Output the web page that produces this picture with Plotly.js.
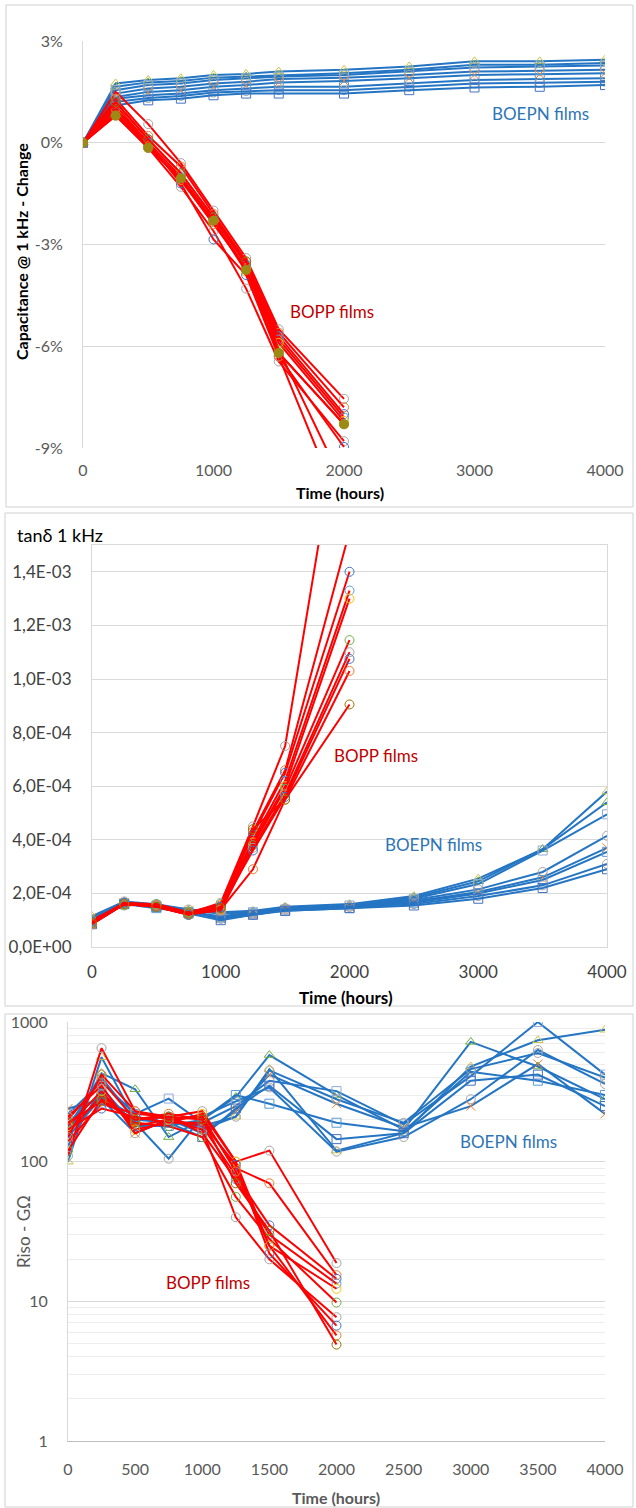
<!DOCTYPE html>
<html><head><meta charset="utf-8">
<script src="https://cdn.plot.ly/plotly-3.0.1.min.js"></script>
<style>html,body{margin:0;padding:0;background:#fff}#chart{width:636px;height:1508px}</style>
</head><body><div id="chart"></div>
<script>
// ---------- DATA ----------
const hoursBOEPN = [0,250,500,750,1000,1250,1500,2000,2500,3000,3500,4000];
const hoursBOPP  = [0,250,500,750,1000,1250,1500,2000];

// Panel 1: capacitance change @ 1 kHz (%)
const capBOEPN1 = [0,1.75,1.85,1.90,2.00,2.03,2.10,2.15,2.25,2.40,2.40,2.45];
const capBOEPN2 = [0,1.65,1.78,1.82,1.92,1.95,2.00,2.05,2.15,2.30,2.30,2.35];
const capBOEPN3 = [0,1.55,1.70,1.75,1.85,1.90,1.95,2.00,2.10,2.22,2.25,2.28];
const capBOEPN4 = [0,1.45,1.60,1.65,1.75,1.80,1.88,1.92,2.00,2.10,2.12,2.15];
const capBOEPN5 = [0,1.35,1.50,1.55,1.65,1.70,1.78,1.82,1.90,2.00,2.02,2.05];
const capBOEPN6 = [0,1.30,1.40,1.45,1.55,1.60,1.65,1.65,1.75,1.85,1.88,1.90];
const capBOEPN7 = [0,1.20,1.32,1.38,1.48,1.52,1.55,1.55,1.65,1.75,1.77,1.80];
const capBOEPN8 = [0,1.10,1.25,1.30,1.40,1.45,1.45,1.45,1.55,1.63,1.65,1.70];

const capBOPP1  = [0,1.50, 0.55,-0.60,-2.00,-3.40,-5.50,-7.55];
const capBOPP2  = [0,1.30, 0.20,-0.70,-2.10,-3.50,-5.60,-7.80];
const capBOPP3  = [0,1.20, 0.10,-0.90,-2.20,-3.60,-5.70,-8.00];
const capBOPP4  = [0,1.00, 0.00,-1.00,-2.30,-3.70,-5.80,-8.10];
const capBOPP5  = [0,0.90,-0.10,-1.10,-2.30,-3.80,-5.90,-8.20];
const capBOPP6  = [0,0.80,-0.15,-1.05,-2.30,-3.75,-6.20,-8.30];
const capBOPP7  = [0,0.85,-0.15,-1.30,-2.60,-4.30,-6.45,-8.80];
const capBOPP8  = [0,1.10, 0.00,-1.20,-2.85,-3.90,-6.30,-8.97];
const capBOPP9  = [0,1.00,-0.10,-1.10,-2.40,-3.70,-6.30,-11.0];
const capBOPP10 = [0,1.20, 0.10,-0.90,-2.20,-3.50,-6.10,-10.1];

// Panel 2: tan delta @ 1 kHz (units of 1E-04)
const tanBOEPN1 = [1.15,1.70,1.60,1.40,1.30,1.35,1.50,1.60,1.90,2.55,3.65,5.80];
const tanBOEPN2 = [1.05,1.65,1.55,1.35,1.25,1.30,1.45,1.55,1.85,2.45,3.65,5.40];
const tanBOEPN3 = [1.00,1.60,1.55,1.30,1.15,1.30,1.40,1.55,1.80,2.35,3.60,4.95];
const tanBOEPN4 = [0.95,1.70,1.50,1.30,1.10,1.25,1.45,1.50,1.75,2.15,2.80,4.15];
const tanBOEPN5 = [1.10,1.65,1.50,1.35,1.05,1.20,1.40,1.50,1.70,2.05,2.60,3.70];
const tanBOEPN6 = [0.90,1.60,1.45,1.30,1.10,1.25,1.35,1.45,1.65,2.00,2.50,3.55];
const tanBOEPN7 = [1.00,1.65,1.55,1.40,1.05,1.20,1.40,1.50,1.60,1.90,2.30,3.10];
const tanBOEPN8 = [0.85,1.60,1.50,1.25,1.00,1.20,1.35,1.45,1.55,1.80,2.20,2.90];

const tanBOPP1  = [0.90,1.65,1.60,1.25,1.65,4.50,7.50,22.0];
const tanBOPP2  = [1.00,1.60,1.55,1.30,1.55,4.30,6.60,15.5];
const tanBOPP3  = [0.85,1.60,1.50,1.20,1.50,4.20,6.50,14.0];
const tanBOPP4  = [0.95,1.65,1.55,1.25,1.45,4.00,6.20,13.3];
const tanBOPP5  = [0.90,1.60,1.50,1.20,1.40,3.90,6.00,13.0];
const tanBOPP6  = [1.00,1.55,1.60,1.30,1.60,3.80,5.90,11.45];
const tanBOPP7  = [0.90,1.60,1.55,1.25,1.35,3.70,5.70,11.0];
const tanBOPP8  = [0.95,1.65,1.50,1.20,1.50,3.60,5.60,10.75];
const tanBOPP9  = [0.85,1.60,1.55,1.25,1.40,2.90,5.50,10.3];
const tanBOPP10 = [0.90,1.60,1.50,1.25,1.45,4.40,5.50,9.05];

// Panel 3: insulation resistance (GOhm)
const risoBOEPN1 = [100,560,200,190,180,210,460,120,160,480,740,880];
const risoBOEPN2 = [160,430,330,150,200,290,580,300,170,720,480,280];
const risoBOEPN3 = [220,370,220,283,190,250,380,320,185,410,1000,420];
const risoBOEPN4 = [190,310,190,105,210,270,340,118,150,280,630,360];
const risoBOEPN5 = [240,280,160,200,160,230,420,260,175,250,500,220];
const risoBOEPN6 = [130,340,180,180,200,300,260,190,165,440,380,300];
const risoBOEPN7 = [180,400,200,210,170,210,450,280,190,460,600,400];
const risoBOEPN8 = [150,290,210,190,150,240,350,145,160,380,420,250];

const risoBOPP1  = [110,650,230,210,230,100,120,18.8];
const risoBOPP2  = [200,380,200,220,200, 90, 70,15.4];
const risoBOPP3  = [160,300,180,200,180, 80, 35,14.5];
const risoBOPP4  = [140,260,220,210,160, 75, 30,13.4];
const risoBOPP5  = [180,320,170,190,220,100, 25,12.3];
const risoBOPP6  = [120,280,190,180,150, 56, 28, 9.8];
const risoBOPP7  = [210,350,160,200,170, 40, 20, 7.7];
const risoBOPP8  = [170,240,210,190,190, 95, 22, 6.7];
const risoBOPP9  = [150,420,230,200,210, 85, 25, 5.7];
const risoBOPP10 = [190,270,200,210,200, 70, 32, 4.9];

const capTicks = [-9,-6,-3,0,3];
const capTickText = ['-9%','-6%','-3%','0%','3%'];
const tanTicks = [0,2,4,6,8,10,12,14];
const tanTickText = ['0,0E+00','2,0E-04','4,0E-04','6,0E-04','8,0E-04','1,0E-03','1,2E-03','1,4E-03'];
const risoTicks = [1,10,100,1000];
const risoTickText = ['1','10','100','1000'];

// ---------- STYLE ----------
const W = 636, H = 1508;
const px = v => v / W, py = v => 1 - v / H;
const BLUE = '#2475C3', RED = '#FF0000';
const FONT = 'Lato, "Open Sans", sans-serif';
const blueSyms = ['triangle-up-open','triangle-up-open','square-open','circle-open','x-thin-open','square-open','circle-open','square-open'];
const blueMcol = ['#C9C34A','#70AD47','#8FAADC','#A5A5A5','#ED7D31','#5B9BD5','#A5A5A5','#4472C4'];
const redMcol  = ['#A5A5A5','#ED7D31','#4472C4','#5B9BD5','#FFC000','#70AD47','#A5A5A5','#4472C4','#ED7D31','#997300'];

const traces = [];
function add(x, y, xa, ya, color, sym, mcol, filled) {
  traces.push({
    x: x, y: y, xaxis: xa, yaxis: ya, type: 'scatter', mode: 'lines+markers',
    line: {color: color, width: 2},
    marker: filled ? {symbol: 'circle', size: 10, color: mcol, line: {width: 0}}
                   : {symbol: sym, size: 9, color: mcol, line: {color: mcol, width: 1}},
    hoverinfo: 'skip', showlegend: false
  });
}
const capB = [capBOEPN1,capBOEPN2,capBOEPN3,capBOEPN4,capBOEPN5,capBOEPN6,capBOEPN7,capBOEPN8];
const capR = [capBOPP1,capBOPP2,capBOPP3,capBOPP4,capBOPP5,capBOPP6,capBOPP7,capBOPP8,capBOPP9,capBOPP10];
const tanB = [tanBOEPN1,tanBOEPN2,tanBOEPN3,tanBOEPN4,tanBOEPN5,tanBOEPN6,tanBOEPN7,tanBOEPN8];
const tanR = [tanBOPP1,tanBOPP2,tanBOPP3,tanBOPP4,tanBOPP5,tanBOPP6,tanBOPP7,tanBOPP8,tanBOPP9,tanBOPP10];
const risB = [risoBOEPN1,risoBOEPN2,risoBOEPN3,risoBOEPN4,risoBOEPN5,risoBOEPN6,risoBOEPN7,risoBOEPN8];
const risR = [risoBOPP1,risoBOPP2,risoBOPP3,risoBOPP4,risoBOPP5,risoBOPP6,risoBOPP7,risoBOPP8,risoBOPP9,risoBOPP10];

capB.forEach((s,i) => add(hoursBOEPN, s, 'x', 'y', BLUE, blueSyms[i], blueMcol[i]));
capR.forEach((s,i) => add(hoursBOPP, s, 'x', 'y', RED, 'circle-open', redMcol[i]));
add(hoursBOPP, capBOPP6, 'x', 'y', RED, 'circle', '#9C8A14', true);
tanB.forEach((s,i) => add(hoursBOEPN, s, 'x2', 'y2', BLUE, blueSyms[i], blueMcol[i]));
tanR.forEach((s,i) => add(hoursBOPP, s, 'x2', 'y2', RED, 'circle-open', redMcol[i]));
risB.forEach((s,i) => add(hoursBOEPN, s, 'x3', 'y3', BLUE, blueSyms[i], blueMcol[i]));
risR.forEach((s,i) => add(hoursBOPP, s, 'x3', 'y3', RED, 'circle-open', redMcol[i]));

const GRID = '#D9D9D9';
const tickGray = {family: FONT, size: 16, color: '#595959'};
const tickDark = {family: FONT, size: 17, color: '#404040'};
const minorVals = [];
[1,10,100].forEach(d => { for (let k = 2; k <= 9; k++) minorVals.push(k*d); });

const layout = {
  width: W, height: H, margin: {l:0, r:0, t:0, b:0},
  paper_bgcolor: '#fff', plot_bgcolor: 'rgba(0,0,0,0)', showlegend: false,
  font: {family: FONT},
  xaxis: {domain: [px(83), px(605)], anchor: 'y', range: [0,4000], tickvals: [0,1000,2000,3000,4000],
          showgrid: false, zeroline: false, showline: false, ticks: 'outside', ticklen: 8, tickcolor: 'rgba(0,0,0,0)',
          tickfont: tickGray},
  yaxis: {domain: [py(448), py(41)], anchor: 'x', range: [-9,3], tickvals: capTicks, ticktext: capTickText,
          showgrid: true, gridcolor: GRID, zeroline: false, showline: true, linecolor: GRID,
          ticks: 'outside', ticklen: 16, tickcolor: 'rgba(0,0,0,0)', tickfont: tickGray},
  xaxis2: {domain: [px(92), px(607)], anchor: 'y2', range: [0,4000], tickvals: [0,1000,2000,3000,4000],
          showgrid: false, zeroline: false, showline: true, mirror: true, linecolor: GRID,
          ticks: 'outside', ticklen: 10, tickcolor: 'rgba(0,0,0,0)', tickfont: tickDark},
  yaxis2: {domain: [py(947), py(545)], anchor: 'x2', range: [0,15], tickvals: tanTicks, ticktext: tanTickText,
          showgrid: true, gridcolor: GRID, zeroline: false, showline: true, mirror: true, linecolor: GRID,
          ticks: 'outside', ticklen: 16, tickcolor: 'rgba(0,0,0,0)', tickfont: tickDark},
  xaxis3: {domain: [px(68), px(605)], anchor: 'y3', range: [0,4000], tickvals: [0,500,1000,1500,2000,2500,3000,3500,4000],
          showgrid: false, zeroline: false, showline: true, linecolor: '#BFBFBF',
          ticks: 'outside', ticklen: 14, tickcolor: 'rgba(0,0,0,0)', tickfont: tickGray},
  yaxis3: {domain: [py(1441), py(1022)], anchor: 'x3', type: 'log', range: [0,3], tickvals: risoTicks, ticktext: risoTickText,
          showgrid: true, gridcolor: GRID, zeroline: false, showline: true, linecolor: GRID,
          minor: {tickvals: minorVals, showgrid: true, gridcolor: '#EDEDED', ticks: ''},
          ticks: 'outside', ticklen: 16, tickcolor: 'rgba(0,0,0,0)', tickfont: tickGray},
  shapes: [
    {type:'rect', xref:'paper', yref:'paper', x0:px(6), x1:px(633), y0:py(507), y1:py(5), line:{color:'#D0D0D0', width:1}},
    {type:'rect', xref:'paper', yref:'paper', x0:px(5), x1:px(633), y0:py(1006), y1:py(513), line:{color:'#D0D0D0', width:1}},
    {type:'rect', xref:'paper', yref:'paper', x0:px(5), x1:px(633), y0:py(1507), y1:py(1014), line:{color:'#D0D0D0', width:1}}
  ],
  annotations: [
    {text:'<b>Capacitance @ 1 kHz - Change</b>', x:px(21), y:py(252), textangle:-90, font:{size:16, color:'#000'}},
    {text:'<b>Time (hours)</b>', x:px(340), y:py(492), font:{size:16, color:'#000'}},
    {text:'BOEPN films', x:px(540), y:py(114), font:{size:17, color:'#2E75B6'}},
    {text:'BOPP films', x:px(332), y:py(311), font:{size:17, color:'#C00000'}},
    {text:'tanδ 1 kHz', x:px(15), y:py(535), xanchor:'left', font:{size:18, color:'#000'}},
    {text:'<b>Time (hours)</b>', x:px(346), y:py(997), font:{size:17, color:'#000'}},
    {text:'BOPP films', x:px(376), y:py(755), font:{size:17, color:'#C00000'}},
    {text:'BOEPN films', x:px(433), y:py(845), font:{size:17, color:'#2E75B6'}},
    {text:'Riso - GΩ', x:px(23), y:py(1232), textangle:-90, font:{size:17, color:'#595959'}},
    {text:'<b>Time (hours)</b>', x:px(336), y:py(1497), font:{size:16, color:'#595959'}},
    {text:'BOEPN films', x:px(508), y:py(1141), font:{size:17, color:'#2E75B6'}},
    {text:'BOPP films', x:px(208), y:py(1282), font:{size:17, color:'#C00000'}}
  ].map(a => Object.assign({xref:'paper', yref:'paper', showarrow:false, xanchor:'center', yanchor:'middle'}, a, {font: Object.assign({family: FONT}, a.font)}))
};

Plotly.newPlot('chart', traces, layout, {staticPlot: true, displayModeBar: false});
</script>
</body></html>
